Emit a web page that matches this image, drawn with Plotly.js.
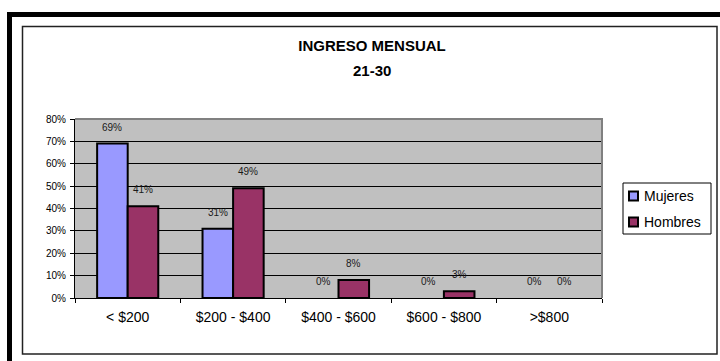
<!DOCTYPE html>
<html>
<head>
<meta charset="utf-8">
<script src="https://cdn.plot.ly/plotly-3.0.1.min.js"></script>
<style>
  html, body { margin: 0; padding: 0; background: #ffffff; }
  #chart { width: 720px; height: 361px; }
</style>
</head>
<body>
<div id="chart"></div>
<script>
// ---- data ----
const categories = ['< $200', '$200 - $400', '$400 - $600', '$600 - $800', '>$800'];
const seriesNames = ['Mujeres', 'Hombres'];
const mujeres = [69, 31, 0, 0, 0];
const hombres = [41, 49, 8, 3, 0];
const yTickVals = [0, 10, 20, 30, 40, 50, 60, 70, 80];
const yTickText = ['0%', '10%', '20%', '30%', '40%', '50%', '60%', '70%', '80%'];
const titleLine1 = 'INGRESO MENSUAL';
const titleLine2 = '21-30';

// ---- geometry (pixels) ----
const W_FIG = 720, H_FIG = 361;
const L = 75, R = 602, T = 119, B = 298;
const PW = R - L, PH = B - T;
const px = x => (x - L) / PW;
const py = y => (B - y) / PH;

const FONT = 'Liberation Sans, Arial, Helvetica, sans-serif';
const colors = ['#9999FF', '#993366'];
const seriesValues = [mujeres, hombres];

const traces = seriesValues.map((vals, s) => ({
  type: 'bar',
  name: seriesNames[s],
  x: categories,
  y: vals,
  marker: { color: colors[s], line: { color: '#000000', width: vals.map(v => v > 0 ? 2 : 0) } },
  hoverinfo: 'skip',
  showlegend: false
}));

const bargap = 0.42;
const barPx = PW / categories.length * (1 - bargap) / 2;

const annotations = [];
seriesValues.forEach((vals, s) => {
  vals.forEach((v, i) => {
    annotations.push({
      x: categories[i], y: v, xref: 'x', yref: 'y',
      xshift: (s === 0 ? -1 : 1) * barPx / 2,
      yshift: 9,
      yanchor: 'bottom', xanchor: 'center',
      text: v + '%', showarrow: false,
      font: { family: FONT, size: 10, color: '#1a1a1a' }
    });
  });
});

// subtitle line
annotations.push({
  xref: 'paper', yref: 'paper', x: px(372), y: py(70),
  xanchor: 'center', yanchor: 'middle', showarrow: false,
  text: titleLine2,
  font: { family: FONT, size: 15, color: '#000', weight: 'bold' }
});

// custom legend texts
const legendY = [196, 222];
seriesNames.forEach((n, s) => {
  annotations.push({
    xref: 'paper', yref: 'paper', x: px(642), y: py(legendY[s]),
    xanchor: 'left', yanchor: 'middle', showarrow: false,
    text: n, font: { family: FONT, size: 14, color: '#000' }
  });
});

const shapes = [
  // outer black band (top and left)
  { type: 'rect', xref: 'paper', yref: 'paper', x0: px(7), x1: px(722), y0: py(17), y1: py(12),
    fillcolor: '#000', line: { width: 0 } },
  { type: 'rect', xref: 'paper', yref: 'paper', x0: px(7), x1: px(12), y0: py(363), y1: py(12),
    fillcolor: '#000', line: { width: 0 } },
  // inner frame
  { type: 'rect', xref: 'paper', yref: 'paper', x0: px(22.5), x1: px(717), y0: py(354), y1: py(26.5),
    line: { color: '#222', width: 1.5 } },
  // plot area grey border (top and right)
  { type: 'path', xref: 'paper', yref: 'paper',
    path: `M0,1 L1,1 L1,0`, line: { color: '#808080', width: 2 } },
  // legend box
  { type: 'rect', xref: 'paper', yref: 'paper', x0: px(623), x1: px(711), y0: py(234), y1: py(183),
    line: { color: '#000', width: 1 }, fillcolor: '#fff' }
];
legendY.forEach((yc, s) => {
  shapes.push({ type: 'rect', xref: 'paper', yref: 'paper',
    x0: px(629), x1: px(638), y0: py(yc + 4.5), y1: py(yc - 4.5),
    fillcolor: colors[s], line: { color: '#000', width: 2 } });
});

const layout = {
  width: W_FIG, height: H_FIG,
  margin: { l: L, r: W_FIG - R, t: T, b: H_FIG - B, pad: 0 },
  paper_bgcolor: '#ffffff',
  plot_bgcolor: '#C0C0C0',
  barmode: 'group',
  bargap: bargap,
  bargroupgap: 0,
  showlegend: false,
  title: {
    text: titleLine1,
    x: px(372), xref: 'paper', xanchor: 'center',
    y: 1 - 46 / H_FIG, yref: 'container', yanchor: 'middle',
    font: { family: FONT, size: 15, color: '#000', weight: 'bold' }
  },
  xaxis: {
    type: 'category',
    showline: true, linecolor: '#000', linewidth: 1,
    ticks: 'outside', ticklen: 4, tickcolor: '#000', tickwidth: 1,
    tickson: 'boundaries',
    ticklabelstandoff: 6,
    tickfont: { family: FONT, size: 14, color: '#000' },
    showgrid: false, zeroline: false, fixedrange: true
  },
  yaxis: {
    range: [0, 80],
    tickmode: 'array',
    tickvals: yTickVals,
    ticktext: yTickText,
    showline: true, linecolor: '#000', linewidth: 1,
    ticks: 'outside', ticklen: 4, tickcolor: '#000', tickwidth: 1,
    ticklabelstandoff: 2,
    tickfont: { family: FONT, size: 10, color: '#000' },
    showgrid: true, gridcolor: '#000', gridwidth: 1,
    zeroline: false, fixedrange: true
  },
  annotations: annotations,
  shapes: shapes
};

Plotly.newPlot('chart', traces, layout, { displayModeBar: false, staticPlot: true });
</script>
</body>
</html>
